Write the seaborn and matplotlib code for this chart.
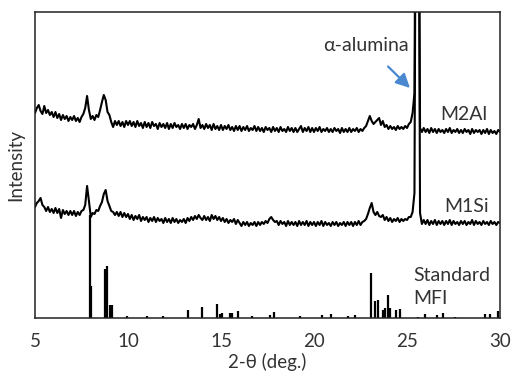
import numpy as np
import pandas as pd
import matplotlib
matplotlib.use("Agg")
import matplotlib.pyplot as plt
import seaborn as sns

# ---------------- data ----------------
two_theta_start = 5.0
two_theta_step = 0.1

# M2Al trace (plotted intensity, arbitrary units, already stacked)
m2al = [
    205, 210, 213, 207, 204, 212, 205, 208, 203, 206,
    201, 206, 200, 204, 198, 203, 199, 202, 197, 201,
    198, 202, 197, 200, 196, 201, 204, 210, 222, 208,
    199, 202, 198, 203, 201, 208, 216, 223, 218, 206,
    203, 196, 191, 197, 193, 197, 192, 196, 191, 197,
    193, 197, 192, 196, 191, 197, 192, 195, 190, 196,
    191, 195, 190, 196, 192, 194, 189, 195, 191, 194,
    190, 195, 189, 194, 190, 195, 191, 193, 189, 194,
    190, 194, 189, 193, 191, 194, 189, 193, 199, 190,
    193, 189, 194, 190, 193, 188, 194, 189, 192, 188,
    193, 188, 192, 189, 193, 188, 191, 187, 192, 188,
    192, 187, 191, 188, 192, 187, 190, 188, 192, 187,
    191, 187, 190, 186, 191, 188, 190, 186, 191, 187,
    190, 186, 191, 187, 189, 186, 191, 187, 190, 186,
    190, 186, 189, 192, 186, 190, 187, 191, 186, 190,
    186, 190, 187, 191, 186, 189, 187, 190, 186, 189,
    186, 190, 187, 189, 185, 190, 186, 189, 186, 190,
    186, 189, 187, 190, 186, 189, 187, 190, 192, 197,
    202, 197, 194, 196, 198, 200, 193, 197, 191, 193,
    189, 192, 189, 191, 188, 192, 189, 191, 189, 192,
    190, 194, 196, 205, 225, 600, 600, 190, 186, 190,
    186, 189, 185, 190, 186, 189, 185, 189, 186, 188,
    185, 189, 186, 190, 185, 188, 186, 189, 185, 188,
    185, 189, 186, 188, 184, 189, 185, 188, 186, 188,
    184, 188, 185, 189, 184, 188, 185, 187, 184, 188,
    186,
]

# M1Si trace
m1si = [
    111, 115, 117, 120, 113, 111, 107, 111, 106, 109,
    105, 110, 105, 109, 100, 108, 104, 107, 103, 107,
    103, 107, 102, 106, 103, 107, 108, 113, 132, 117,
    101, 105, 104, 108, 107, 112, 116, 124, 128, 117,
    112, 107, 106, 103, 106, 102, 106, 101, 105, 101,
    104, 99, 103, 98, 102, 99, 103, 97, 101, 98,
    101, 96, 100, 97, 101, 96, 100, 97, 99, 95,
    100, 96, 99, 95, 100, 96, 99, 95, 98, 96,
    99, 95, 100, 97, 101, 98, 102, 99, 103, 100,
    98, 102, 98, 101, 97, 103, 99, 102, 98, 101,
    97, 100, 96, 99, 95, 98, 96, 99, 94, 98,
    95, 92, 96, 93, 96, 92, 95, 93, 96, 92,
    96, 93, 96, 94, 97, 95, 99, 101, 98, 96,
    97, 93, 97, 94, 96, 92, 97, 93, 96, 93,
    96, 92, 97, 93, 96, 93, 97, 92, 96, 93,
    96, 92, 96, 93, 97, 92, 96, 93, 95, 92,
    96, 93, 96, 92, 95, 93, 96, 92, 96, 93,
    96, 92, 96, 93, 97, 93, 96, 97, 99, 104,
    110, 115, 106, 103, 106, 102, 101, 103, 98, 101,
    97, 100, 96, 99, 97, 100, 96, 99, 97, 99,
    98, 101, 101, 106, 125, 600, 600, 105, 94, 98,
    94, 98, 93, 97, 94, 98, 93, 97, 94, 97,
    93, 97, 94, 98, 93, 97, 94, 96, 93, 97,
    94, 97, 93, 96, 94, 98, 93, 97, 94, 96,
    93, 97, 94, 96, 93, 97, 94, 96, 93, 96,
    95,
]

# Standard MFI stick pattern
mfi_pos = [7.96, 8.01, 8.78, 8.89, 9.05, 9.14, 9.93, 11.0, 11.9, 13.24,
           13.96, 14.77, 14.95, 15.04, 15.48, 15.61, 15.93, 16.65, 17.63, 17.85,
           19.25, 20.42, 20.91, 21.85, 22.2, 23.05, 23.28, 23.46, 23.69, 23.82,
           24.0, 24.09, 24.41, 24.62, 25.61, 25.97, 26.6, 26.95, 27.58, 29.19,
           29.46, 29.91]
mfi_int = [103, 32, 49, 52, 13, 13, 1.5, 1.5, 1.5, 7.5,
           11, 14, 4, 5, 5, 5, 6.5, 2, 3, 5.5,
           1.5, 2.5, 3.5, 1.5, 2.5, 45, 17, 18, 8, 10,
           23, 10, 7.5, 8.5, 1, 3.5, 2.5, 4.5, 1, 3.5,
           3.5, 6.5]

x_ticks = [5, 10, 15, 20, 25, 30]
series_labels = ["M2Al", "M1Si"]
std_label = "Standard\nMFI"

# ---------------- plot ----------------
sns.set_style("white")
plt.rcParams["font.family"] = ["Lato", "DejaVu Sans"]

two_theta = np.round(two_theta_start + two_theta_step * np.arange(len(m2al)), 2)
df = pd.DataFrame({
    "2theta": np.concatenate([two_theta, two_theta]),
    "intensity": np.concatenate([m2al, m1si]),
    "sample": ["M2Al"] * len(m2al) + ["M1Si"] * len(m1si),
})

fig = plt.figure(figsize=(5.13, 3.80), dpi=100)
ax = fig.add_axes([0.0682, 0.1632, 0.9065, 0.8052])

sns.lineplot(data=df, x="2theta", y="intensity", units="sample", estimator=None,
             color="black", lw=1.5, ax=ax, legend=False)
ax.vlines(mfi_pos, 0, mfi_int, color="black", lw=1.6)

ax.set_xlim(5, 30)
ax.set_ylim(0, 306)
ax.set_xticks(x_ticks)
ax.set_xticklabels([str(t) for t in x_ticks])
ax.set_yticks([])
ax.tick_params(axis="x", direction="out", length=5, width=1, color="#333333",
               labelsize=13.5, labelcolor="#333333", pad=6)
for s in ax.spines.values():
    s.set_visible(True)
    s.set_color("#222222")
    s.set_linewidth(1.1)

ax.set_xlabel("2-θ (deg.)", fontsize=13.5, color="#333333", labelpad=2)
ax.set_ylabel("Intensity", fontsize=13.5, color="#333333", labelpad=8)

txt_kw = dict(fontsize=14, color="#333333", ha="left", va="center")
ax.text(26.78, 204, series_labels[0], **txt_kw)
ax.text(26.98, 111, series_labels[1], **txt_kw)
ax.text(25.32, 31, std_label, linespacing=1.4, **txt_kw)

ax.annotate("α-alumina", xy=(25.16, 230), xytext=(22.8, 273),
            fontsize=14, color="#333333", ha="center", va="center",
            arrowprops=dict(arrowstyle="-|>,head_length=0.6,head_width=0.3",
                            color="#4A89D0", lw=1.6, shrinkA=10, shrinkB=0))

fig.savefig("out.png", dpi=100)
